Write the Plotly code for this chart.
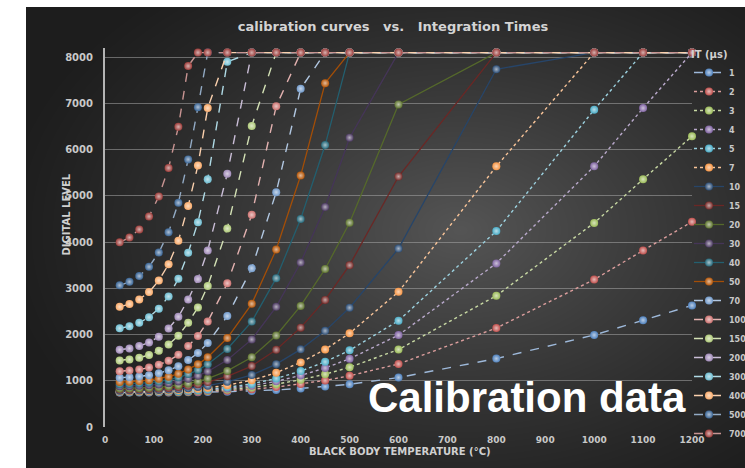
import base64, struct, zlib
import numpy as np
import plotly.graph_objects as go

# ---------------- data ----------------
temps = [30, 50, 70, 90, 110, 130, 150, 170, 190, 210, 250, 300, 350, 400,
         450, 500, 600, 800, 1000, 1100, 1200]

it_labels = ["1", "2", "3", "4", "5", "7", "10", "15", "20", "30", "40", "50",
             "70", "100", "150", "200", "300", "400", "500", "700"]

dl_it1 = [745, 745, 745, 745, 746, 747, 748, 750, 752, 755, 764, 779, 802, 834, 874, 924, 1070, 1480, 1990, 2310, 2630]
dl_it2 = [749, 750, 750, 751, 752, 754, 756, 760, 765, 771, 787, 817, 864, 928, 1008, 1108, 1364, 2140, 3190, 3820, 4440]
dl_it3 = [754, 754, 755, 756, 758, 761, 765, 770, 777, 786, 811, 856, 926, 1022, 1142, 1292, 1676, 2840, 4415, 5360, 6290]
dl_it4 = [759, 759, 760, 762, 764, 768, 773, 780, 789, 802, 835, 894, 988, 1116, 1276, 1476, 1988, 3540, 5640, 6900, 8100]
dl_it5 = [763, 764, 765, 767, 770, 775, 781, 791, 802, 817, 859, 933, 1050, 1210, 1410, 1660, 2300, 4240, 6865, 8100, 8100]
dl_it7 = [773, 774, 775, 778, 783, 789, 798, 811, 826, 848, 906, 1010, 1174, 1398, 1678, 2028, 2924, 5640, 8100, 8100, 8100]
dl_it10 = [787, 788, 791, 795, 801, 810, 822, 841, 863, 894, 977, 1125, 1360, 1680, 2080, 2580, 3860, 7740, 8100, 8100, 8100]
dl_it15 = [810, 812, 816, 822, 831, 844, 863, 892, 925, 971, 1096, 1318, 1670, 2150, 2750, 3500, 5420, 8100, 8100, 8100, 8100]
dl_it20 = [833, 836, 841, 849, 861, 879, 904, 942, 986, 1048, 1214, 1510, 1980, 2620, 3420, 4420, 6980, 8100, 8100, 8100, 8100]
dl_it30 = [880, 884, 892, 904, 922, 949, 987, 1043, 1109, 1202, 1451, 1895, 2600, 3560, 4760, 6260, 8100, 8100, 8100, 8100, 8100]
dl_it40 = [926, 932, 942, 958, 983, 1018, 1069, 1144, 1232, 1356, 1688, 2280, 3220, 4500, 6100, 8100, 8100, 8100, 8100, 8100, 8100]
dl_it50 = [973, 980, 993, 1013, 1044, 1088, 1151, 1245, 1355, 1510, 1925, 2665, 3840, 5440, 7440, 8100, 8100, 8100, 8100, 8100, 8100]
dl_it70 = [1066, 1076, 1094, 1122, 1165, 1227, 1315, 1447, 1601, 1818, 2399, 3435, 5080, 7320, 8100, 8100, 8100, 8100, 8100, 8100, 8100]
dl_it100 = [1205, 1220, 1245, 1285, 1347, 1435, 1562, 1750, 1970, 2280, 3110, 4590, 6940, 8100, 8100, 8100, 8100, 8100, 8100, 8100, 8100]
dl_it150 = [1438, 1460, 1498, 1558, 1651, 1783, 1973, 2255, 2585, 3050, 4295, 6515, 8100, 8100, 8100, 8100, 8100, 8100, 8100, 8100, 8100]
dl_it200 = [1670, 1700, 1750, 1830, 1954, 2130, 2384, 2760, 3200, 3820, 5480, 8100, 8100, 8100, 8100, 8100, 8100, 8100, 8100, 8100, 8100]
dl_it300 = [2135, 2180, 2255, 2375, 2561, 2825, 3206, 3770, 4430, 5360, 7900, 8100, 8100, 8100, 8100, 8100, 8100, 8100, 8100, 8100, 8100]
dl_it400 = [2600, 2660, 2760, 2920, 3168, 3520, 4028, 4780, 5660, 6900, 8100, 8100, 8100, 8100, 8100, 8100, 8100, 8100, 8100, 8100, 8100]
dl_it500 = [3065, 3140, 3265, 3465, 3775, 4215, 4850, 5790, 6920, 8100, 8100, 8100, 8100, 8100, 8100, 8100, 8100, 8100, 8100, 8100, 8100]
dl_it700 = [3995, 4100, 4275, 4555, 4989, 5605, 6494, 7810, 8100, 8100, 8100, 8100, 8100, 8100, 8100, 8100, 8100, 8100, 8100, 8100, 8100]

series_values = [dl_it1, dl_it2, dl_it3, dl_it4, dl_it5, dl_it7, dl_it10, dl_it15,
                 dl_it20, dl_it30, dl_it40, dl_it50, dl_it70, dl_it100, dl_it150,
                 dl_it200, dl_it300, dl_it400, dl_it500, dl_it700]

x_ticks = list(range(0, 1300, 100))
y_ticks = list(range(0, 9000, 1000))

# ---------------- styles ----------------
colors = ["#4F81BD", "#C0504D", "#9BBB59", "#8064A2", "#4BACC6", "#F79646",
          "#2C4D75", "#772C2A", "#5F7530", "#4D3B62", "#276A7C", "#B65708",
          "#729ACA", "#CD7371", "#AFC97A", "#A08AB8", "#6FBDD1", "#F9AB6B",
          "#3A6595", "#9C3D3A"]
dashes = ["dash"] + ["dot"] * 5 + ["solid"] * 6 + ["dash"] * 8


def tint(hexc, f):
    r, g, b = int(hexc[1:3], 16), int(hexc[3:5], 16), int(hexc[5:7], 16)
    r, g, b = [int(c + (255 - c) * f) for c in (r, g, b)]
    return f"rgb({r},{g},{b})"


def shade(hexc, f):
    r, g, b = int(hexc[1:3], 16), int(hexc[3:5], 16), int(hexc[5:7], 16)
    r, g, b = [int(c * (1 - f)) for c in (r, g, b)]
    return f"rgb({r},{g},{b})"


FIG_W, FIG_H = 745, 468
L, R, T, B = 105, 53, 48, 41
PW, PH = FIG_W - L - R, FIG_H - T - B


def px_to_paper_x(px):
    return (px - L) / PW


def px_to_paper_y(py):
    return (FIG_H - B - py) / PH


# background gradient image (dark radial gradient like the reference)
X0, Y0 = 26, 7
W, H = FIG_W - X0, FIG_H - Y0
xx, yy = np.meshgrid(np.arange(W) + X0, np.arange(H) + Y0)
d = np.sqrt(((xx - 460) / 470.0) ** 2 + ((yy - 230) / 320.0) ** 2)
v = np.clip(1 - d, 0, 1) ** 1.2
val = (29 + 56 * v).astype(np.uint8)
img = np.stack([val, val, val], axis=-1)


def png_bytes(a):
    h, w, _ = a.shape
    raw = b"".join(b"\x00" + a[r].tobytes() for r in range(h))

    def chunk(tag, data):
        c = struct.pack(">I", len(data)) + tag + data
        return c + struct.pack(">I", zlib.crc32(tag + data) & 0xffffffff)
    return (b"\x89PNG\r\n\x1a\n" + chunk(b"IHDR", struct.pack(">IIBBBBB", w, h, 8, 2, 0, 0, 0))
            + chunk(b"IDAT", zlib.compress(raw, 9)) + chunk(b"IEND", b""))


bg_src = "data:image/png;base64," + base64.b64encode(png_bytes(img)).decode()

fig = go.Figure()
for lab, vals, col, dsh in zip(it_labels, series_values, colors, dashes):
    lc = shade(col, 0.1) if dsh == "solid" else tint(col, 0.45)
    fig.add_trace(go.Scatter(
        x=temps, y=vals, name=lab, mode="lines+markers",
        line=dict(color=lc, width=1.3 if dsh == "solid" else 1.4, dash=dsh),
        marker=dict(size=8, color=col, line=dict(width=0),
                    gradient=dict(type="radial", color=tint(col, 0.6))),
        cliponaxis=False,
    ))

lab_font = dict(family="DejaVu Sans", size=10, color="#c8c8c8", weight="bold")

fig.update_layout(
    width=FIG_W, height=FIG_H,
    margin=dict(l=L, r=R, t=T, b=B, autoexpand=False),
    paper_bgcolor="white", plot_bgcolor="rgba(0,0,0,0)",
    showlegend=True,
    images=[dict(source=bg_src, xref="paper", yref="paper",
                 x=px_to_paper_x(X0), y=px_to_paper_y(Y0),
                 sizex=W / PW, sizey=H / PH, sizing="stretch",
                 xanchor="left", yanchor="top", layer="below")],
    xaxis=dict(range=[0, 1200], tickvals=x_ticks, ticktext=[str(t) for t in x_ticks],
               showgrid=False, zeroline=False, showline=False, ticks="",
               tickfont=dict(family="DejaVu Sans", size=9, color="#c8c8c8", weight="bold"),
               ticklabelstandoff=6),
    yaxis=dict(range=[0, 8200], tickvals=y_ticks, ticktext=[str(t) for t in y_ticks],
               showgrid=True, gridcolor="rgba(165,165,165,0.55)", gridwidth=1,
               zeroline=False, showline=True, linecolor="#b4b4b4", linewidth=2,
               ticks="", tickfont=lab_font, ticklabelstandoff=8),
    legend=dict(x=px_to_paper_x(689), xanchor="left", y=px_to_paper_y(45), yanchor="top",
                bgcolor="rgba(0,0,0,0)", maxheight=440,
                font=dict(family="DejaVu Sans", size=8, color="#c8c8c8", weight="bold"),
                itemwidth=30, tracegroupgap=0,
                title=dict(text="IT (µs)", font=dict(family="DejaVu Sans", size=10,
                                                     color="#d0d0d0", weight="bold"))),
    title=dict(text="calibration curves\u00a0\u00a0 vs.\u00a0\u00a0 Integration Times",
               x=393 / FIG_W, xanchor="center", y=1 - 26 / FIG_H, yanchor="middle",
               font=dict(family="DejaVu Sans", size=13, color="#d4d4d4", weight="bold")),
    annotations=[
        dict(text="DIGITAL LEVEL", xref="paper", yref="paper",
             x=px_to_paper_x(58), y=px_to_paper_y(215), textangle=-90, showarrow=False,
             font=dict(family="DejaVu Sans", size=10, color="#d0d0d0", weight="bold")),
        dict(text="BLACK BODY TEMPERATURE (°C)", xref="paper", yref="paper",
             x=px_to_paper_x(400), y=px_to_paper_y(459), showarrow=False,
             font=dict(family="DejaVu Sans", size=10, color="#d0d0d0", weight="bold")),
        dict(text="<b>Calibration data</b>", xref="paper", yref="paper",
             x=px_to_paper_x(527), y=px_to_paper_y(397), showarrow=False,
             xanchor="center", yanchor="middle",
             font=dict(family="Liberation Sans", size=42, color="white")),
    ],
)

fig.write_html("out.html")
